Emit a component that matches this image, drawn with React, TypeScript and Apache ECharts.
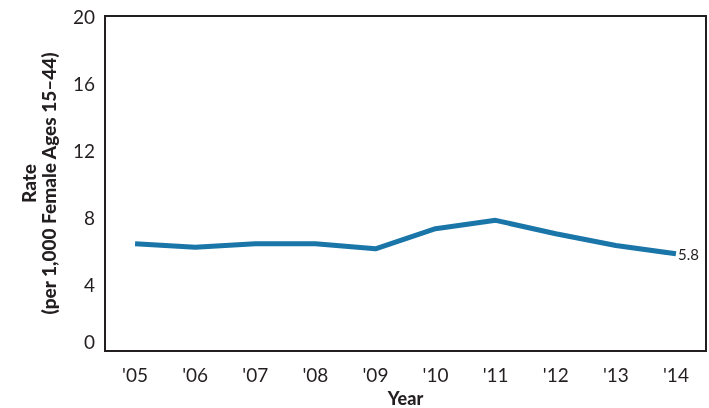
import React, { useEffect, useRef } from "react";
import * as echarts from "echarts";

const years = ["'05", "'06", "'07", "'08", "'09", "'10", "'11", "'12", "'13", "'14"];
const rates = [6.4, 6.2, 6.4, 6.4, 6.1, 7.3, 7.8, 7.0, 6.3, 5.8];
const yTicks = [0, 4, 8, 12, 16, 20];

export default function App() {
  const ref = useRef<HTMLDivElement>(null);
  useEffect(() => {
    const chart = echarts.init(ref.current!, null, { renderer: "svg" });
    const font = "Lato";
    chart.setOption({
      animation: false,
      grid: {
        left: 105,
        right: 3,
        top: 16,
        bottom: 57,
        outerBoundsMode: "none",
        containLabel: false,
        show: true,
        borderColor: "#231f20",
        borderWidth: 2,
        backgroundColor: "transparent",
      },
      xAxis: {
        type: "category",
        data: years,
        boundaryGap: true,
        axisLine: { show: true, lineStyle: { color: "#231f20", width: 2 } },
        axisTick: { show: false },
        axisLabel: { color: "#231f20", fontFamily: font, fontSize: 19, margin: 14 },
        name: "Year",
        nameLocation: "middle",
        nameGap: 31,
        nameTextStyle: {
          color: "#231f20",
          fontFamily: font,
          fontSize: 18,
          fontWeight: 900,
          lineHeight: 18,
        },
      },
      yAxis: {
        type: "value",
        min: yTicks[0],
        max: yTicks[yTicks.length - 1],
        interval: 4,
        axisLine: { show: true, lineStyle: { color: "#231f20", width: 2 } },
        axisTick: { show: false },
        splitLine: { show: false },
        axisLabel: {
          color: "#231f20",
          fontFamily: font,
          fontSize: 19,
          margin: 10,
          verticalAlignMinLabel: "bottom",
        },
        name: "Rate\n(per 1,000 Female Ages 15–44)",
        nameLocation: "middle",
        nameGap: 47,
        nameTextStyle: {
          color: "#231f20",
          fontFamily: font,
          fontSize: 19,
          fontWeight: 900,
          lineHeight: 20,
          align: "center",
        },
      },
      series: [
        {
          type: "line",
          data: rates,
          symbol: "none",
          lineStyle: { color: "#1a75a8", width: 5 },
          endLabel: {
            show: true,
            formatter: (p: any) => String(p.value),
            color: "#231f20",
            fontFamily: font,
            fontSize: 15,
            distance: 2,
          },
        },
      ],
    });
    return () => chart.dispose();
  }, []);
  return (
    <div
      ref={ref}
      style={{ position: "fixed", left: 0, top: 0, width: 709, height: 408 }}
    />
  );
}
